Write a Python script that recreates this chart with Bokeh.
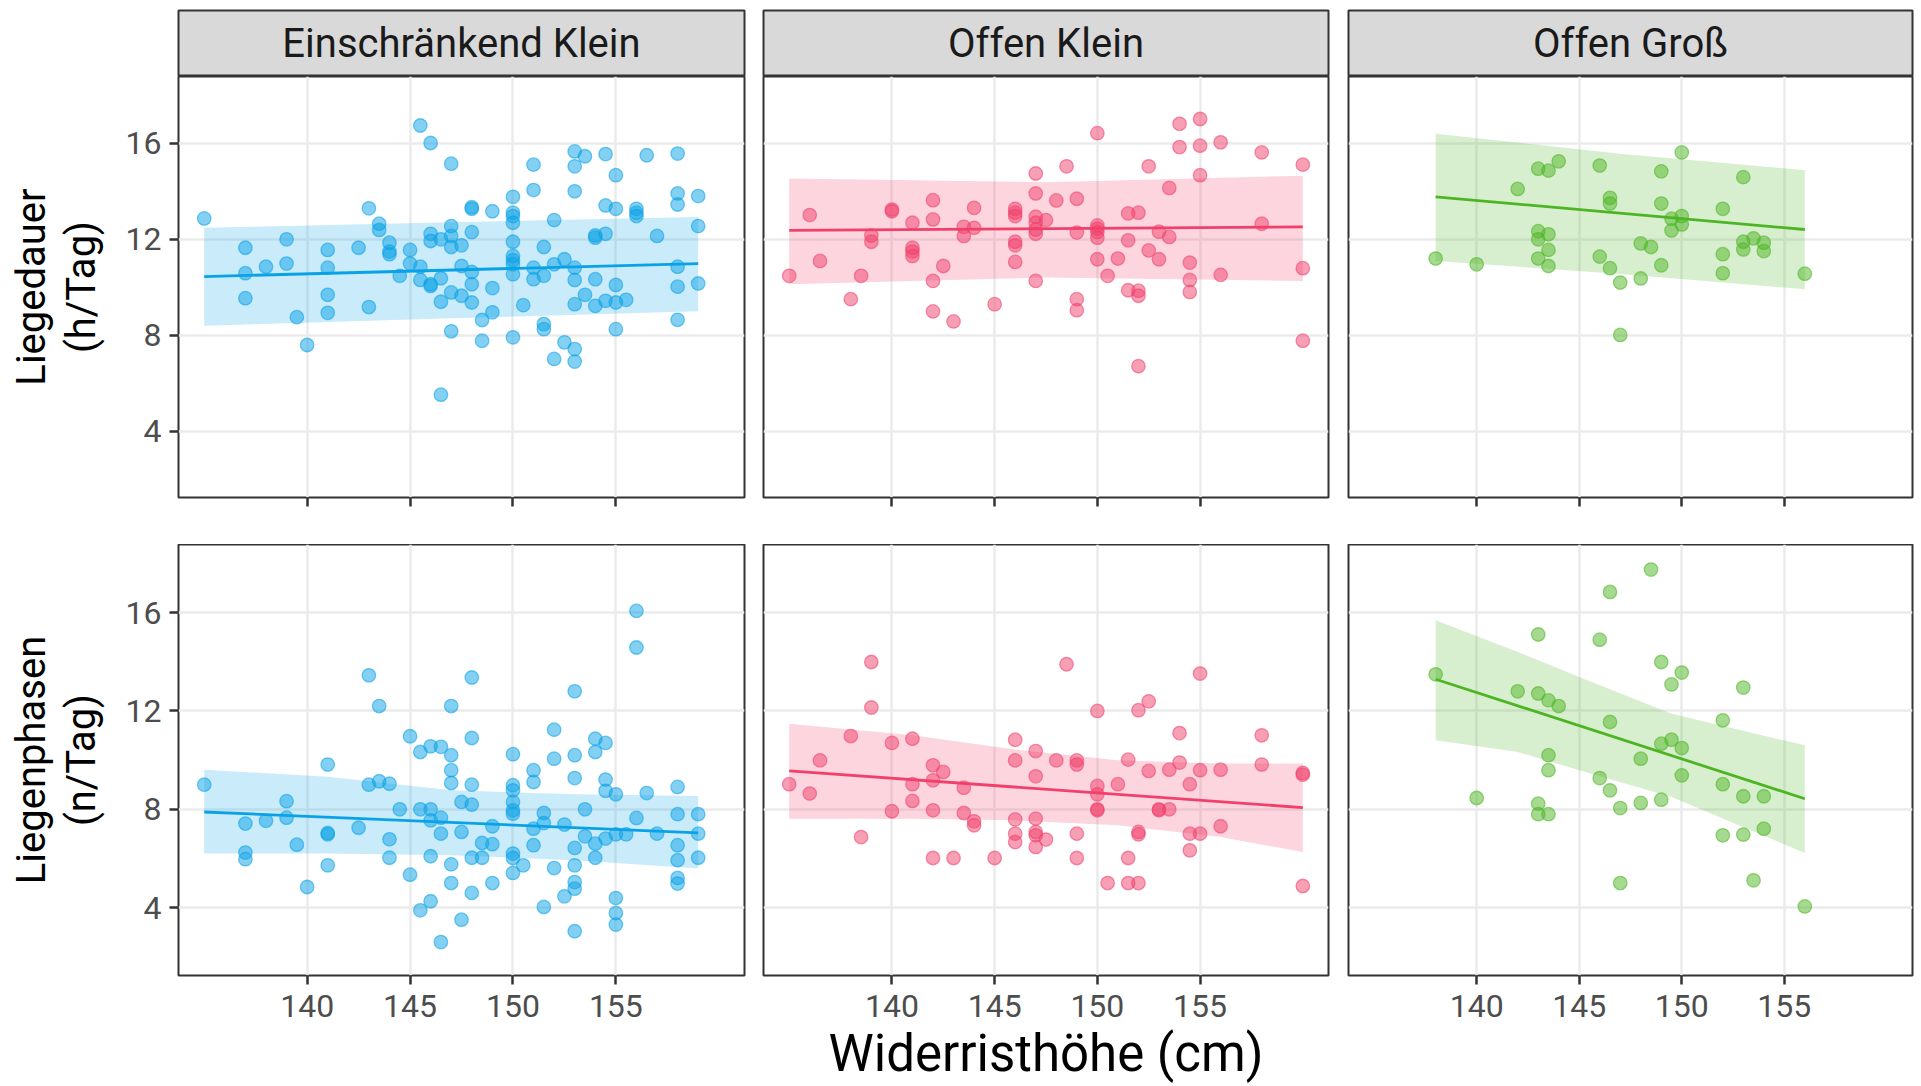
from bokeh.plotting import figure
from bokeh.layouts import row, column
from bokeh.models import FixedTicker, CustomJSTickFormatter, Range1d
from bokeh.core.properties import value
from bokeh.embed import file_html
from bokeh.resources import INLINE

# ---------------- data ----------------
facets = ["Einschränkend Klein", "Offen Klein", "Offen Groß"]
row_titles = ["Liegedauer\n(h/Tag)", "Liegenphasen\n(n/Tag)"]
x_title = "Widerristhöhe (cm)"
x_ticks = [140, 145, 150, 155]
y_ticks = [4, 8, 12, 16]
colors = ["#0AA2E6", "#F0406B", "#4DB524"]

# Einschränkend Klein - Liegedauer
ek_dauer_x = [135, 137, 137, 137, 138, 139, 139, 139.5, 140, 141, 141, 141, 141, 142.5, 143, 143,
              143.5, 143.5, 144, 144, 144, 144.5, 145, 145, 145.5, 145.5, 145.5,
              146, 146, 146, 146, 146, 146.5, 146.5, 146.5, 146.5,
              147, 147, 147, 147, 147, 147, 147.5, 147.5, 147.5,
              148, 148, 148, 148, 148, 148, 148.5, 148.5, 149, 149, 149,
              150, 150, 150, 150, 150, 150, 150, 150, 150, 150, 150.5,
              151, 151, 151, 151, 151.5, 151.5, 151.5, 151.5, 152, 152, 152, 152.5, 152.5,
              153, 153, 153, 153, 153, 153, 153, 153, 153.5, 153.5,
              154, 154, 154, 154, 154.5, 154.5, 154.5, 154.5,
              155, 155, 155, 155, 155, 155.5, 156, 156, 156, 156.5, 157,
              158, 158, 158, 158, 158, 158, 159, 159, 159]
ek_dauer_y = [12.86, 11.64, 10.58, 9.54, 10.85, 11.99, 10.98, 8.75, 7.59, 11.55, 10.81, 9.68, 8.93, 11.64, 13.28, 9.17,
              12.64, 12.38, 11.85, 11.48, 11.37, 10.47, 11.55, 10.98, 16.73, 10.85, 10.30,
              16.0, 12.22, 11.92, 10.12, 10.05, 11.99, 10.37, 9.39, 5.52,
              15.14, 12.54, 12.13, 11.67, 9.78, 8.16, 11.74, 10.88, 9.64,
              13.33, 13.26, 12.29, 10.63, 10.12, 9.36, 8.63, 7.77, 13.16, 9.96, 8.95,
              13.76, 13.10, 12.96, 12.68, 11.89, 11.30, 11.12, 10.95, 10.54, 7.91, 9.25,
              15.10, 14.04, 10.81, 10.33, 11.67, 10.47, 8.46, 8.25, 12.79, 10.95, 7.01, 11.16, 7.70,
              15.65, 15.03, 13.99, 10.81, 10.30, 9.29, 7.42, 6.90, 15.45, 9.68,
              12.15, 12.06, 10.33, 9.22, 15.54, 13.40, 12.22, 9.43,
              14.66, 13.26, 10.09, 9.36, 8.25, 9.47, 13.26, 13.10, 12.96, 15.49, 12.13,
              15.56, 13.90, 13.44, 10.85, 10.02, 8.64, 13.79, 12.54, 10.15]

# Offen Klein - Liegedauer
ok_dauer_x = [135, 136, 136.5, 138, 138.5, 139, 139, 140, 140, 141, 141, 141, 141,
              142, 142, 142, 142, 142.5, 143, 143.5, 143.5, 144, 144, 145,
              146, 146, 146, 146, 146, 146, 147, 147, 147, 147, 147, 147, 147,
              147.5, 148, 148.5, 149, 149, 149, 149, 150, 150, 150, 150, 150, 150,
              150.5, 151, 151.5, 151.5, 151.5, 152, 152, 152, 152, 152.5, 152.5,
              153, 153, 153.5, 153.5, 154, 154, 154.5, 154.5, 154.5, 155, 155, 155,
              156, 156, 158, 158, 160, 160, 160]
ok_dauer_y = [10.47, 13.0, 11.09, 9.50, 10.47, 12.15, 11.89, 13.23, 13.16, 12.68, 11.64, 11.48, 11.30,
              13.62, 12.82, 10.26, 8.99, 10.88, 8.57, 12.51, 12.13, 13.30, 12.47, 9.29,
              13.26, 13.10, 12.96, 11.89, 11.74, 11.05, 14.73, 13.90, 12.93, 12.68, 12.40, 12.22, 10.26,
              12.79, 13.61, 15.03, 13.68, 12.27, 9.50, 9.04, 16.41, 12.57, 12.43, 12.29, 12.06, 11.16,
              10.47, 11.19, 13.07, 11.95, 9.87, 13.10, 9.85, 9.64, 6.71, 15.03, 11.53,
              12.31, 11.16, 14.13, 12.09, 16.80, 15.83, 11.02, 10.30, 9.80, 17.0, 15.89, 14.66,
              16.03, 10.51, 15.61, 12.64, 15.10, 10.79, 7.77]

# Offen Groß - Liegedauer
og_dauer_x = [138, 140, 142, 143, 143, 143, 143, 143.5, 143.5, 143.5, 143.5, 144,
              146, 146, 146.5, 146.5, 146.5, 147, 147, 148, 148, 148.5,
              149, 149, 149, 149.5, 149.5, 150, 150, 150, 152, 152, 152,
              153, 153, 153, 153.5, 154, 154, 156]
og_dauer_y = [11.19, 10.95, 14.09, 14.93, 12.33, 11.99, 11.19, 14.85, 12.20, 11.55, 10.88, 15.24,
              15.06, 11.27, 13.72, 13.48, 10.79, 10.19, 8.01, 11.82, 10.36, 11.67,
              14.82, 13.48, 10.91, 12.85, 12.36, 15.61, 12.96, 12.61, 13.26, 11.37, 10.58,
              14.58, 11.89, 11.57, 12.03, 11.85, 11.50, 10.56]

# Einschränkend Klein - Liegenphasen
ek_phasen_x = [135, 137, 137, 137, 138, 139, 139, 139.5, 140, 141, 141, 141, 141, 142.5,
               143, 143, 143.5, 143.5, 144, 144, 144, 144.5, 145, 145, 145.5, 145.5, 145.5,
               146, 146, 146, 146, 146, 146.5, 146.5, 146.5, 146.5,
               147, 147, 147, 147, 147, 147, 147.5, 147.5, 147.5,
               148, 148, 148, 148, 148, 148, 148.5, 148.5, 149, 149, 149,
               150, 150, 150, 150, 150, 150, 150, 150, 150, 150.5,
               151, 151, 151, 151, 151.5, 151.5, 151.5, 152, 152, 152, 152.5, 152.5,
               153, 153, 153, 153, 153, 153, 153, 153, 153.5, 153.5,
               154, 154, 154, 154, 154.5, 154.5, 154.5, 154.5,
               155, 155, 155, 155, 155, 155.5, 156, 156, 156, 156.5, 157,
               158, 158, 158, 158, 158, 158, 159, 159, 159]
ek_phasen_y = [9.0, 7.42, 6.24, 5.97, 7.53, 8.33, 7.66, 6.56, 4.84, 9.82, 7.04, 6.98, 5.72, 7.25,
               13.45, 9.0, 12.20, 9.14, 9.04, 6.78, 6.03, 8.0, 10.97, 5.34, 10.33, 8.0, 3.89,
               10.56, 8.0, 7.55, 6.09, 4.26, 10.54, 7.66, 7.01, 2.60,
               12.20, 10.20, 9.59, 9.07, 5.76, 5.0, 8.30, 7.08, 3.51,
               13.36, 10.90, 9.0, 8.19, 6.03, 4.60, 6.63, 6.03, 7.31, 6.58, 5.0,
               10.24, 8.98, 8.77, 8.30, 7.96, 7.82, 6.20, 6.02, 5.41, 5.72,
               9.59, 9.11, 7.21, 6.54, 7.85, 7.44, 4.03, 11.24, 10.06, 5.61, 7.38, 4.46,
               12.80, 10.20, 9.27, 6.43, 5.72, 5.04, 4.77, 3.04, 8.0, 6.90,
               10.87, 10.33, 6.60, 6.03, 10.70, 9.21, 8.75, 6.81,
               8.61, 6.98, 4.39, 3.78, 3.31, 6.98, 16.07, 14.58, 7.65, 8.66, 7.01,
               8.91, 7.80, 6.54, 5.93, 5.21, 4.98, 7.80, 7.01, 6.03]

# Offen Klein - Liegenphasen
ok_phasen_x = [135, 136, 136.5, 138, 138.5, 139, 139, 140, 140, 141, 141, 141,
               142, 142, 142, 142, 142.5, 143, 143.5, 143.5, 144, 144, 145,
               146, 146, 146, 146, 146, 147, 147, 147, 147, 147, 147, 147.5, 148, 148.5,
               149, 149, 149, 149, 150, 150, 150, 150, 150, 150.5, 151,
               151.5, 151.5, 151.5, 152, 152, 152, 152, 152.5, 152.5, 153, 153,
               153.5, 153.5, 154, 154, 154.5, 154.5, 154.5, 155, 155, 155,
               156, 156, 158, 158, 160, 160, 160]
ok_phasen_y = [9.02, 8.64, 9.99, 10.98, 6.87, 13.99, 12.14, 10.70, 7.92, 10.87, 9.02, 8.34,
               9.79, 9.18, 7.96, 6.02, 9.52, 6.02, 8.88, 7.85, 7.51, 7.35, 6.02,
               10.83, 9.99, 7.59, 7.01, 6.67, 10.37, 9.34, 7.62, 7.08, 6.94, 6.47, 6.77, 9.99, 13.90,
               9.99, 9.82, 7.01, 6.02, 12.0, 8.95, 8.61, 8.0, 7.96, 5.0, 9.02,
               10.02, 6.02, 5.0, 12.03, 7.08, 6.98, 5.0, 12.39, 9.56, 8.0, 7.96,
               9.61, 8.0, 11.10, 9.90, 9.02, 7.01, 6.33, 13.52, 9.59, 7.01,
               9.61, 7.31, 11.01, 9.82, 9.48, 9.41, 4.88]

# Offen Groß - Liegenphasen
og_phasen_x = [138, 140, 142, 143, 143, 143, 143, 143.5, 143.5, 143.5, 143.5, 144,
               146, 146, 146.5, 146.5, 146.5, 147, 147, 148, 148, 148.5,
               149, 149, 149, 149.5, 149.5, 150, 150, 150, 152, 152, 152,
               153, 153, 153, 153.5, 154, 154, 156]
og_phasen_y = [13.49, 8.46, 12.80, 15.11, 12.71, 8.23, 7.80, 12.43, 10.20, 9.59, 7.80, 12.20,
               14.90, 9.27, 16.84, 11.55, 8.77, 8.05, 5.0, 10.06, 8.26, 17.75,
               13.99, 10.67, 8.39, 13.08, 10.83, 13.56, 10.49, 9.38, 11.62, 9.02, 6.94,
               12.95, 8.53, 6.97, 5.11, 8.53, 7.21, 4.05]

# model fit lines (start / end) and confidence bands
ek_dauer_fit_x, ek_dauer_fit_y = [135, 159], [10.44, 10.98]
ek_dauer_band_x = [135, 147, 159]
ek_dauer_band_lo = [8.39, 8.70, 9.00]
ek_dauer_band_hi = [12.47, 12.70, 12.92]

ok_dauer_fit_x, ok_dauer_fit_y = [135, 160], [12.36, 12.51]
ok_dauer_band_x = [135, 147.5, 160]
ok_dauer_band_lo = [10.12, 10.40, 10.26]
ok_dauer_band_hi = [14.52, 14.37, 14.64]

og_dauer_fit_x, og_dauer_fit_y = [138, 156], [13.76, 12.40]
og_dauer_band_x = [138, 147, 156]
og_dauer_band_lo = [11.09, 10.55, 9.91]
og_dauer_band_hi = [16.39, 15.55, 14.87]

ek_phasen_fit_x, ek_phasen_fit_y = [135, 159], [7.89, 7.04]
ek_phasen_band_x = [135, 141, 147, 153, 159]
ek_phasen_band_lo = [6.20, 6.20, 6.13, 5.93, 5.59]
ek_phasen_band_hi = [9.61, 9.32, 8.77, 8.61, 8.54]

ok_phasen_fit_x, ok_phasen_fit_y = [135, 160], [9.56, 8.07]
ok_phasen_band_x = [135, 141, 146, 151, 156, 160]
ok_phasen_band_lo = [7.62, 7.62, 7.55, 7.35, 6.87, 6.26]
ok_phasen_band_hi = [11.48, 11.01, 10.43, 9.99, 9.86, 9.86]

og_phasen_fit_x, og_phasen_fit_y = [138, 156], [13.29, 8.43]
og_phasen_band_x = [138, 142, 145, 149.5, 156]
og_phasen_band_lo = [10.81, 10.33, 9.59, 8.50, 6.22]
og_phasen_band_hi = [15.69, 14.40, 13.38, 11.89, 10.60]

panel_data = [
    [dict(x=ek_dauer_x, y=ek_dauer_y, fx=ek_dauer_fit_x, fy=ek_dauer_fit_y,
          bx=ek_dauer_band_x, lo=ek_dauer_band_lo, hi=ek_dauer_band_hi),
     dict(x=ok_dauer_x, y=ok_dauer_y, fx=ok_dauer_fit_x, fy=ok_dauer_fit_y,
          bx=ok_dauer_band_x, lo=ok_dauer_band_lo, hi=ok_dauer_band_hi),
     dict(x=og_dauer_x, y=og_dauer_y, fx=og_dauer_fit_x, fy=og_dauer_fit_y,
          bx=og_dauer_band_x, lo=og_dauer_band_lo, hi=og_dauer_band_hi)],
    [dict(x=ek_phasen_x, y=ek_phasen_y, fx=ek_phasen_fit_x, fy=ek_phasen_fit_y,
          bx=ek_phasen_band_x, lo=ek_phasen_band_lo, hi=ek_phasen_band_hi),
     dict(x=ok_phasen_x, y=ok_phasen_y, fx=ok_phasen_fit_x, fy=ok_phasen_fit_y,
          bx=ok_phasen_band_x, lo=ok_phasen_band_lo, hi=ok_phasen_band_hi),
     dict(x=og_phasen_x, y=og_phasen_y, fx=og_phasen_fit_x, fy=og_phasen_fit_y,
          bx=og_phasen_band_x, lo=og_phasen_band_lo, hi=og_phasen_band_hi)],
]

# ---------------- styling / layout ----------------
FONT = "Roboto"
X_RANGE = (133.75, 161.25)
Y_RANGE = (1.24, 18.77)
frame_w = [566, 565, 564]
left_b = [178, 17, 18]
right_b = 2
strip_h = 66
top_h = 421
bot_h = 431
gap_rows = 47
bottom_b = 109


def style_axis(ax):
    ax.axis_line_color = None
    ax.major_tick_line_color = "#333333"
    ax.major_tick_line_width = 2.5
    ax.major_tick_out = 9
    ax.major_tick_in = 0
    ax.minor_tick_line_color = None
    ax.major_label_text_font = FONT
    ax.major_label_text_font_size = "32px"
    ax.major_label_text_color = "#4d4d4d"
    ax.axis_label_text_font = FONT
    ax.axis_label_text_font_style = "normal"
    ax.axis_label_text_color = "#000000"


def make_strip(c):
    p = figure(frame_width=frame_w[c], frame_height=strip_h,
               min_border_left=left_b[c], min_border_right=right_b,
               min_border_top=10, min_border_bottom=0,
               x_range=Range1d(0, 1), y_range=Range1d(0, 1),
               toolbar_location=None, output_backend="svg", title=None)
    p.axis.visible = False
    p.grid.visible = False
    p.background_fill_color = "#d9d9d9"
    p.border_fill_color = "white"
    p.outline_line_color = "#333333"
    p.outline_line_width = 2
    p.text(x=[0.5], y=[0.5], text=[facets[c]], text_align="center", text_baseline="middle",
           text_font=value(FONT), text_font_size="40px", text_color="#1a1a1a")
    return p


def make_panel(r, c):
    d = panel_data[r][c]
    col = colors[c]
    p = figure(frame_width=frame_w[c], frame_height=top_h if r == 0 else bot_h,
               min_border_left=left_b[c], min_border_right=right_b,
               min_border_top=0, min_border_bottom=gap_rows if r == 0 else bottom_b,
               x_range=Range1d(*X_RANGE), y_range=Range1d(*Y_RANGE),
               toolbar_location=None, output_backend="svg", title=None)
    p.background_fill_color = "white"
    p.outline_line_color = "#333333"
    p.outline_line_width = 2
    p.xaxis.ticker = FixedTicker(ticks=x_ticks)
    p.yaxis.ticker = FixedTicker(ticks=y_ticks)
    p.xgrid.ticker = FixedTicker(ticks=x_ticks)
    p.ygrid.ticker = FixedTicker(ticks=y_ticks)
    for g in (p.xgrid, p.ygrid):
        g.grid_line_color = "#ebebeb"
        g.grid_line_width = 2.5
        g.minor_grid_line_color = None
    style_axis(p.xaxis[0])
    style_axis(p.yaxis[0])
    p.xaxis.major_label_standoff = 10
    p.yaxis.major_label_standoff = 8
    if r == 0:
        p.xaxis.formatter = CustomJSTickFormatter(code="return ''")
        p.xaxis.major_label_standoff = 0
    if c == 0:
        p.yaxis.axis_label = row_titles[r]
        p.yaxis.axis_label_text_font_size = "40px"
        p.yaxis.axis_label_text_line_height = 1.05
        p.yaxis.axis_label_standoff = 18
    else:
        p.yaxis.visible = False
    if r == 1 and c == 1:
        p.xaxis.axis_label = x_title
        p.xaxis.axis_label_text_font_size = "51px"
        p.xaxis.axis_label_standoff = 4

    p.varea(x=d["bx"], y1=d["lo"], y2=d["hi"], fill_color=col, fill_alpha=0.22)
    p.scatter(x=d["x"], y=d["y"], size=13.5, fill_color=col, fill_alpha=0.5,
              line_color=col, line_alpha=0.55, line_width=1.3)
    p.line(x=d["fx"], y=d["fy"], line_color=col, line_width=2.8)
    return p


cols = []
for c in range(3):
    cols.append(column(make_strip(c), make_panel(0, c), make_panel(1, c), spacing=0))

layout = row(*cols, spacing=0)

open("out.html", "w").write(file_html(layout, INLINE))
